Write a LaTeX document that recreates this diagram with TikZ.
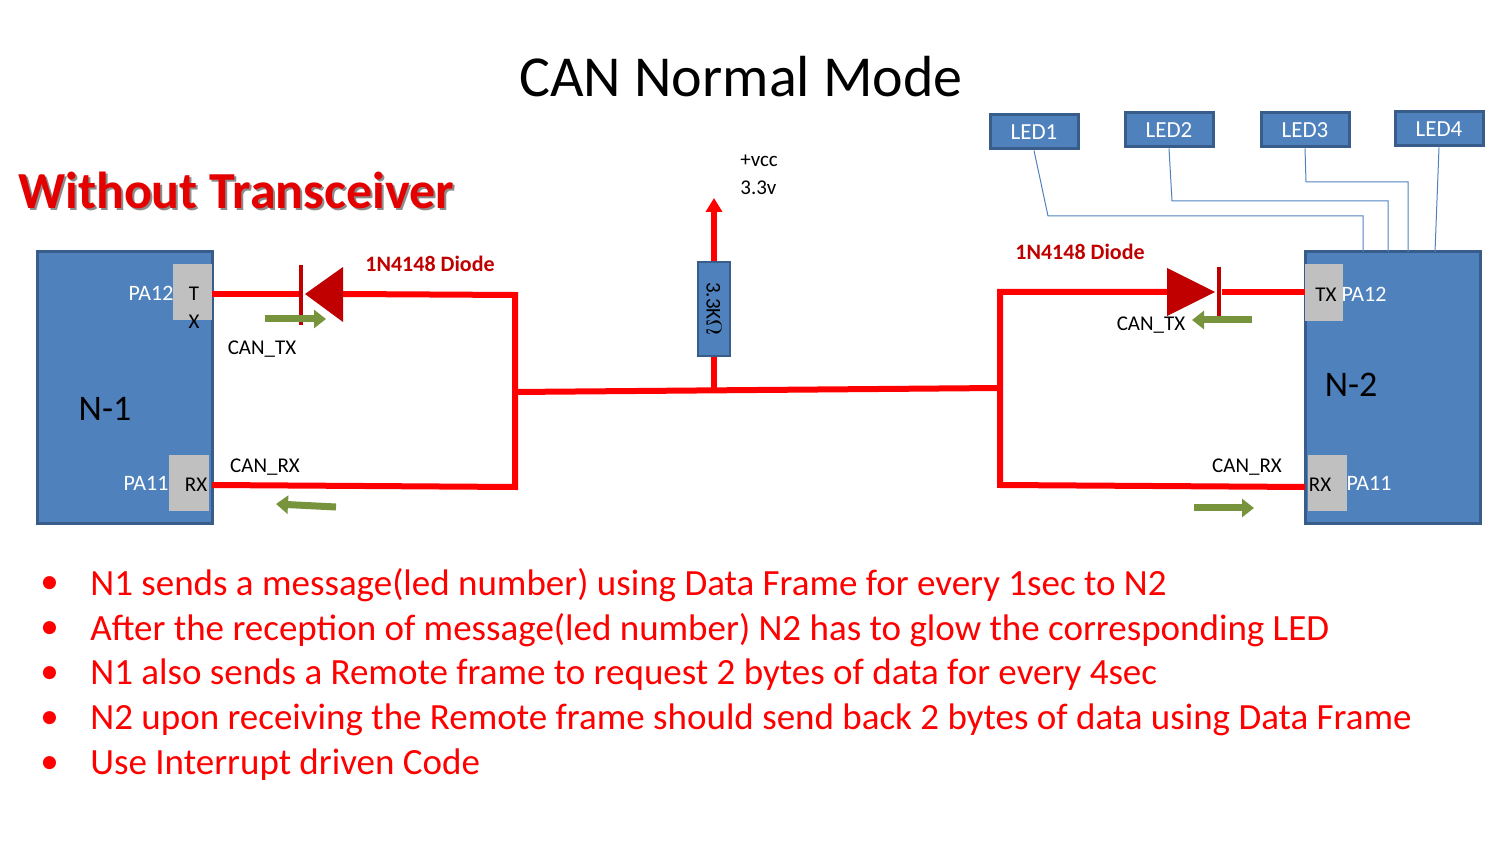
\documentclass[tikz,border=0pt]{standalone}
\usepackage{fontspec}
\setmainfont{Carlito}
\usetikzlibrary{arrows.meta}
\definecolor{boxblue}{HTML}{4F81BD}
\definecolor{boxedge}{HTML}{385D8A}
\definecolor{pad}{HTML}{C0C0C0}
\definecolor{wire}{HTML}{FF0000}
\definecolor{dred}{HTML}{C00000}
\definecolor{grn}{HTML}{77933C}
\begin{document}
\begin{tikzpicture}[x=0.5pt,y=-0.5pt,
 board/.style={draw=boxedge,line width=1.5pt,fill=boxblue},
 padbox/.style={fill=pad},
 wireline/.style={wire,line width=3pt},
 garrow/.style={grn,line width=3.5pt,-{Triangle[length=6pt,width=9pt]}},
 led/.style={draw=boxedge,line width=1.5pt,fill=boxblue,minimum width=44pt,minimum height=17pt,text=white,font=\fontsize{11.5}{13}\selectfont,inner sep=0pt},
 ledline/.style={boxblue,line width=0.5pt},
 small/.style={font=\fontsize{10.5}{12}\selectfont,inner sep=0pt},
 pin/.style={font=\fontsize{11}{12}\selectfont,inner sep=0pt,text=white},
 dlabel/.style={font=\bfseries\fontsize{11}{13}\selectfont,text=dred,inner sep=0pt},
 bullet/.style={font=\fontsize{18.5}{22}\selectfont,text=wire,anchor=west,inner sep=0pt}]
\useasboundingbox (0,0) rectangle (1500,844);
% title
\node (title) at (741,77) {\fontsize{29}{34}\selectfont CAN Normal Mode};
\node[text=black!45] (wshadow) at (238,192) {\fontsize{26}{30}\selectfont\bfseries Without Transceiver};
\node[text=wire!90!black] (wtext) at (236,190) {\fontsize{26}{30}\selectfont\bfseries Without Transceiver};
% boards
\draw[board] (37,252) rectangle (212,524);
\fill[padbox] (173,264) rectangle (212,320);
\fill[padbox] (169,455) rectangle (209,511);
\node (n1) at (105,409) {\fontsize{18}{21}\selectfont N-1};
\node[pin] (pa12a) at (151,293) {PA12};
\node[pin] (pa11a) at (146,483) {PA11};
\node[small] (txa) at (194,294) {T};
\node[small] (txb) at (194,322) {X};
\node[small] (rxa) at (196,485) {RX};
\draw[board] (1305,252) rectangle (1480,524);
\fill[padbox] (1305,264) rectangle (1343,321);
\fill[padbox] (1308,455) rectangle (1347,511);
\node (n2) at (1351,385) {\fontsize{18}{21}\selectfont N-2};
\node[pin] (pa12b) at (1364,294) {PA12};
\node[pin] (pa11b) at (1369,483) {PA11};
\node[small] (txc) at (1326,295) {TX};
\node[small] (rxc) at (1320,485) {RX};
% LEDs
\node[led] (l1) at (1034,132) {LED1};
\node[led] (l2) at (1169,130) {LED2};
\node[led] (l3) at (1305,130) {LED3};
\node[led] (l4) at (1439,129) {LED4};
\draw[ledline] (l1.south) -- (1048,216) -- (1363,216) -- (1363,252);
\draw[ledline] (l2.south) -- (1172,201) -- (1388,201) -- (1388,252);
\draw[ledline] (l3.south) -- (1306,182) -- (1408,182) -- (1408,252);
\draw[ledline] (l4.south) -- (1435,252);
% left wires
\coordinate (a1) at (212,294);
\coordinate (a2) at (515,295);
\coordinate (a3) at (515,487);
\coordinate (a4) at (212,485);
\draw[wireline] (a1) -- (300,294);
\draw[wireline] (343,294) -- (a2) -- (a3) -- (a4);
\fill[dred] (305,294) -- (343,267) -- (343,322) -- cycle;
\draw[dred,line width=2pt] (301,265) -- (301,325);
% middle
\coordinate (m1) at (515,392);
\coordinate (m2) at (1000,388);
\draw[wireline] (m1) -- (m2);
\node[draw=boxedge,fill=boxblue,line width=1pt,minimum width=16pt,minimum height=47pt,inner sep=0pt] (res) at (714,309) {};
\node[rotate=-90,small] at (res) {3.3K$\Omega$};
\draw[wireline] (res.south) -- (714,390);
\draw[wireline,-{Triangle[length=7pt,width=8pt]}] (res.north) -- (714,198);
\node[small,anchor=west] (vcc) at (740,161) {+vcc};
\node[small,anchor=west] (v33) at (740,188) {3.3v};
% right wires
\coordinate (r1) at (1305,292);
\coordinate (r2) at (1000,292);
\coordinate (r3) at (1000,485);
\coordinate (r4) at (1305,487);
\draw[wireline] (1167,292) -- (r2) -- (r3) -- (r4);
\draw[wireline] (1222,292) -- (r1);
\fill[dred] (1215,292) -- (1167,268) -- (1167,316) -- cycle;
\draw[dred,line width=2pt] (1219,267) -- (1219,318);
% labels
\node[dlabel] (d1) at (430,264) {1N4148 Diode};
\node[dlabel] (d2) at (1080,252) {1N4148 Diode};
\node[small] (ct1) at (262,349) {CAN\_TX};
\node[small] (cr1) at (265,467) {CAN\_RX};
\node[small] (ct2) at (1151,325) {CAN\_TX};
\node[small] (cr2) at (1247,467) {CAN\_RX};
% green arrows
\draw[garrow] (265,319) -- (326,319);
\draw[garrow] (336,507) -- (276,504);
\draw[garrow] (1252,320) -- (1192,320);
\draw[garrow] (1194,508) -- (1254,508);
% bullets
\foreach \y/\t in {585/{N1 sends a message(led number) using Data Frame for every 1sec to N2},
 630/{After the reception of message(led number) N2 has to glow the corresponding LED},
 675/{N1 also sends a Remote frame to request 2 bytes of data for every 4sec},
 720/{N2 upon receiving the Remote frame should send back 2 bytes of data using Data Frame},
 765/{Use Interrupt driven Code}}{
 \node[bullet] at (40,\y) {\textbullet};
 \node[bullet] at (90,\y) {\t};
}
\end{tikzpicture}
\end{document}
